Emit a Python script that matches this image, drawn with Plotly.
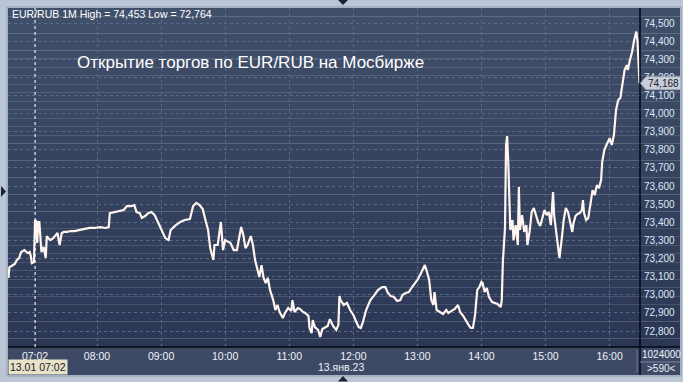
import plotly.graph_objects as go

# ---------------- data ----------------
DAY = "2023-01-13 "
times = [
    "06:37", "06:38", "06:40", "06:43", "06:45", "06:47", "06:49", "06:52", "06:53", "06:55",
    "06:57", "06:58", "06:59", "07:01",
    "07:02", "07:03", "07:04", "07:05", "07:06", "07:07", "07:08", "07:10", "07:12", "07:13",
    "07:16", "07:19", "07:23", "07:25", "07:27", "07:29", "07:32", "07:35", "07:39", "07:44",
    "07:49", "07:53", "07:58", "08:03", "08:08", "08:11", "08:12", "08:17", "08:22", "08:25",
    "08:28", "08:32", "08:35", "08:37", "08:40", "08:42", "08:45", "08:48", "08:51", "08:54",
    "08:57", "09:01", "09:04", "09:07", "09:09", "09:13", "09:18", "09:22", "09:27", "09:30",
    "09:33", "09:36", "09:39", "09:42", "09:44", "09:46", "09:49", "09:50", "09:53", "09:56",
    "09:58", "10:00", "10:03", "10:05", "10:08", "10:11", "10:15", "10:17", "10:19", "10:21",
    "10:24", "10:26", "10:28", "10:30", "10:32", "10:34", "10:36", "10:38", "10:40", "10:42",
    "10:45", "10:47", "10:49", "10:51", "10:54", "10:56", "10:59", "11:02", "11:03", "11:05",
    "11:08", "11:10", "11:13", "11:15", "11:18", "11:19", "11:21", "11:22", "11:24", "11:27",
    "11:29", "11:31", "11:33", "11:36", "11:38", "11:41", "11:44", "11:46", "11:47", "11:48",
    "11:51", "11:54", "11:57", "12:00", "12:02", "12:05", "12:07", "12:09", "12:12", "12:14",
    "12:16", "12:19", "12:23", "12:27", "12:30", "12:32", "12:35", "12:38", "12:41", "12:44",
    "12:46", "12:49", "12:52", "12:55", "12:58", "13:00", "13:03", "13:05", "13:07", "13:09",
    "13:11", "13:13", "13:15", "13:16", "13:18", "13:21", "13:24", "13:27", "13:29", "13:32",
    "13:35", "13:38", "13:40", "13:43", "13:45", "13:48", "13:50", "13:52", "13:54", "13:56",
    "13:58", "14:00", "14:01", "14:03", "14:05", "14:07", "14:10", "14:13", "14:15", "14:18",
    "14:19", "14:20", "14:21", "14:22", "14:23", "14:24", "14:25", "14:26", "14:27", "14:29",
    "14:30", "14:32", "14:34", "14:35", "14:36", "14:38", "14:40", "14:42", "14:43", "14:45",
    "14:47", "14:49", "14:51", "14:53", "14:55", "14:57", "14:59", "15:01", "15:03", "15:05",
    "15:07", "15:08", "15:10", "15:12", "15:13", "15:15", "15:17", "15:19", "15:21", "15:23",
    "15:25", "15:26", "15:28", "15:30", "15:32", "15:34", "15:35", "15:36", "15:38", "15:40",
    "15:42", "15:44", "15:46", "15:48", "15:50", "15:52", "15:53", "15:55", "15:57", "15:59",
    "16:00", "16:02", "16:04", "16:06", "16:08", "16:10", "16:12", "16:14", "16:16", "16:17",
    "16:19", "16:21", "16:23", "16:25", "16:26", "16:27", "16:28",
]
prices = [
    73093, 73153, 73159, 73170, 73192, 73203, 73236, 73247, 73242, 73231,
    73236, 73214, 73175, 73181,
    73413, 73407, 73286, 73402, 73402, 73275, 73236, 73264, 73203, 73324,
    73302, 73313, 73341, 73275, 73341, 73347, 73347, 73352, 73352, 73358,
    73363, 73369, 73369, 73374, 73369, 73374, 73451, 73457, 73462, 73468,
    73490, 73490, 73495, 73457, 73451, 73424, 73435, 73451, 73457, 73440,
    73402, 73347, 73313, 73302, 73358, 73380, 73402, 73413, 73418, 73490,
    73507, 73495, 73473, 73402, 73358, 73258, 73192, 73275, 73275, 73402,
    73247, 73302, 73291, 73286, 73247, 73247, 73374, 73330, 73258, 73275,
    73324, 73275, 73192, 73137, 73098, 73164, 73093, 73065, 73093, 73026,
    72971, 72916, 72944, 72905, 72872, 72900, 72927, 72911, 72971, 72905,
    72927, 72922, 72905, 72900, 72883, 72817, 72789, 72861, 72822, 72806,
    72767, 72811, 72817, 72828, 72866, 72828, 72806, 72833, 72993, 72971,
    72944, 72955, 72916, 72889, 72861, 72822, 72817, 72850, 72916, 72944,
    72971, 72993, 73026, 73043, 73043, 73015, 72993, 72988, 72966, 72971,
    72999, 73010, 73015, 73043, 73065, 73082, 73115, 73137, 73164, 73126,
    73082, 72971, 72944, 73015, 72916, 72905, 72894, 72916, 72900, 72911,
    72922, 72944, 72905, 72883, 72861, 72833, 72817, 72817, 72889, 73026,
    73043, 73071, 73065, 73015, 73037, 72988, 72960, 72955, 72949, 72933,
    72971, 73181, 73302, 73369, 73827, 73876, 73744, 73595, 73358, 73413,
    73302, 73385, 73275, 73595, 73358, 73440, 73347, 73385, 73275, 73347,
    73457, 73479, 73440, 73402, 73380, 73424, 73468, 73440, 73457, 73385,
    73567, 73440, 73347, 73275, 73203, 73302, 73413, 73479, 73457, 73402,
    73347, 73391, 73435, 73446, 73451, 73468, 73523, 73451, 73413, 73424,
    73495, 73578, 73550, 73605, 73589, 73633, 73733, 73799, 73827, 73854,
    73865, 73827, 73882, 74020, 74075, 74086, 74158, 74241, 74268, 74241,
    74296, 74340, 74406, 74453, 74406, 74241, 74168,
]
hour_ticks = ["07:02", "08:00", "09:00", "10:00", "11:00", "12:00", "13:00", "14:00", "15:00", "16:00"]
cursor_time = "07:02"
high_value = 74453
low_value = 72764
last_value = prices[-1]

# ---------------- layout geometry (pixels) ----------------
W, H = 683, 382
L, R, T, B = 8, 640, 8, 347
FONT = "Liberation Sans, Arial, sans-serif"
BORDER = "#bac6d6"
PANEL = "#3e4a65"

def fx(p):
    return (p - L) / (R - L)

def fy(p):
    return (B - p) / (B - T)

def hexmix(c1, c2, t):
    return "#%02x%02x%02x" % tuple(int(round(a + (b - a) * t)) for a, b in zip(c1, c2))

fig = go.Figure()
fig.add_trace(go.Scatter(
    x=[DAY + t for t in times], y=prices, mode="lines",
    line=dict(color="#fff5ee", width=2.2), hoverinfo="skip", showlegend=False,
))

shapes = []
# gradient background (plot + right axis panel)
top_c, bot_c = (64, 79, 106), (43, 55, 84)
n = 40
for i in range(n):
    y0 = T + i * (B - T) / n
    y1 = T + (i + 1) * (B - T) / n
    shapes.append(dict(type="rect", xref="paper", yref="paper", layer="below",
                       x0=fx(L), x1=fx(680), y0=fy(y1), y1=fy(y0),
                       fillcolor=hexmix(top_c, bot_c, (i + 0.5) / n), line_width=0))
# bottom axis panel
shapes.append(dict(type="rect", xref="paper", yref="paper", layer="below",
                   x0=fx(L), x1=fx(680), y0=fy(375), y1=fy(B), fillcolor=PANEL, line_width=0))
# frame lines
shapes.append(dict(type="line", xref="paper", yref="paper", x0=fx(R), x1=fx(R), y0=fy(375), y1=fy(T),
                   line=dict(color="#05080f", width=1.5)))
shapes.append(dict(type="line", xref="paper", yref="paper", x0=fx(L), x1=fx(680), y0=fy(B), y1=fy(B),
                   line=dict(color="#05080f", width=1.5)))
shapes.append(dict(type="line", xref="paper", yref="paper", x0=fx(R), x1=fx(680), y0=fy(362), y1=fy(362),
                   line=dict(color="#7a869e", width=1)))
shapes.append(dict(type="line", xref="paper", yref="paper", x0=fx(637), x1=fx(637), y0=fy(372), y1=fy(350),
                   line=dict(color="#6a7690", width=1)))
shapes.append(dict(type="rect", xref="paper", yref="paper", layer="below",
                   x0=fx(L - 1), x1=fx(681), y0=fy(376), y1=fy(T - 1),
                   line=dict(color="#8e9bb0", width=1), fillcolor="rgba(0,0,0,0)"))
# crosshair
shapes.append(dict(type="line", xref="x", yref="paper", x0=DAY + cursor_time, x1=DAY + cursor_time,
                   y0=0, y1=1, line=dict(color="#ffffff", width=1, dash="dot")))
# navigation triangles
def tri(pts, color="#1c2332"):
    path = "M " + " L ".join("%f,%f" % (fx(a), fy(b)) for a, b in pts) + " Z"
    return dict(type="path", xref="paper", yref="paper", path=path, fillcolor=color, line_width=0)
shapes.append(tri([(1, 186), (6, 191.5), (1, 197)]))
shapes.append(tri([(338, 0), (348, 0), (343, 5)]))
shapes.append(tri([(338, 381.5), (348, 381.5), (343, 376)]))
# price marker arrow
px_per_val = (B - T) / (74583 - 72712)
d = 6.5 / px_per_val
shapes.append(dict(type="path", xref="paper", yref="y",
                   path="M %f,%f L %f,%f L %f,%f L %f,%f L %f,%f Z" % (
                       fx(640.5), last_value, fx(646), last_value + d, fx(681), last_value + d,
                       fx(681), last_value - d, fx(646), last_value - d),
                   fillcolor="#c8cdd6", line=dict(color="#9aa3b3", width=1)))

annotations = [
    dict(text="EUR/RUB 1M High = %s Low = %s" % (f"{high_value:,}", f"{low_value:,}"),
         xref="paper", yref="paper", x=fx(10), y=fy(14.5), xanchor="left", yanchor="middle",
         showarrow=False, font=dict(family=FONT, size=10.5, color="#ffffff")),
    dict(text="Открытие торгов по EUR/RUB на Мосбирже",
         xref="paper", yref="paper", x=fx(75), y=fy(62), xanchor="left", yanchor="middle",
         showarrow=False, font=dict(family=FONT, size=17, color="#ffffff")),
    dict(text=f"{last_value:,}", xref="paper", yref="y", x=fx(663), y=last_value,
         xanchor="center", yanchor="middle", showarrow=False,
         font=dict(family=FONT, size=10, color="#1a2030")),
    dict(text="13.01 07:02", xref="paper", yref="paper", x=fx(38), y=fy(367), xanchor="center",
         yanchor="middle", showarrow=False, bgcolor="#e7e3c6", borderpad=1,
         font=dict(family=FONT, size=10.5, color="#1a2030")),
    dict(text="13.янв.23", xref="paper", yref="paper", x=fx(341), y=fy(367), xanchor="center",
         yanchor="middle", showarrow=False, font=dict(family=FONT, size=10.5, color="#eef3fa")),
    dict(text="1024000", xref="paper", yref="paper", x=fx(661), y=fy(355), xanchor="center",
         yanchor="middle", showarrow=False, font=dict(family=FONT, size=10, color="#eef3fa")),
    dict(text="&gt;590&lt;", xref="paper", yref="paper", x=fx(661), y=fy(368), xanchor="center",
         yanchor="middle", showarrow=False, font=dict(family=FONT, size=10, color="#eef3fa")),
]

fig.update_layout(
    width=W, height=H,
    margin=dict(l=L, r=W - R, t=T, b=H - B, pad=0),
    paper_bgcolor=BORDER, plot_bgcolor="rgba(0,0,0,0)",
    shapes=shapes, annotations=annotations, showlegend=False,
    font=dict(family=FONT, color="#eef3fa"),
)
fig.update_xaxes(
    type="date", range=[DAY + "06:36:40", DAY + "16:28:25"],
    tickvals=[DAY + t for t in hour_ticks], ticktext=hour_ticks,
    showgrid=True, gridcolor="#5b6a86", griddash="dot", gridwidth=1,
    zeroline=False, showline=False, ticks="", ticklabelstandoff=1,
    tickfont=dict(family=FONT, size=10.5, color="#eef3fa"),
)
fig.update_yaxes(
    side="right", range=[72712, 74583], tick0=72800, dtick=100, tickformat=",d",
    showgrid=True, gridcolor="#5b6a86", griddash="dot", gridwidth=1,
    zeroline=False, showline=False, ticks="", ticklabelstandoff=3,
    tickfont=dict(family=FONT, size=10, color="#dfe9f6"),
)

fig.write_html("out.html")
